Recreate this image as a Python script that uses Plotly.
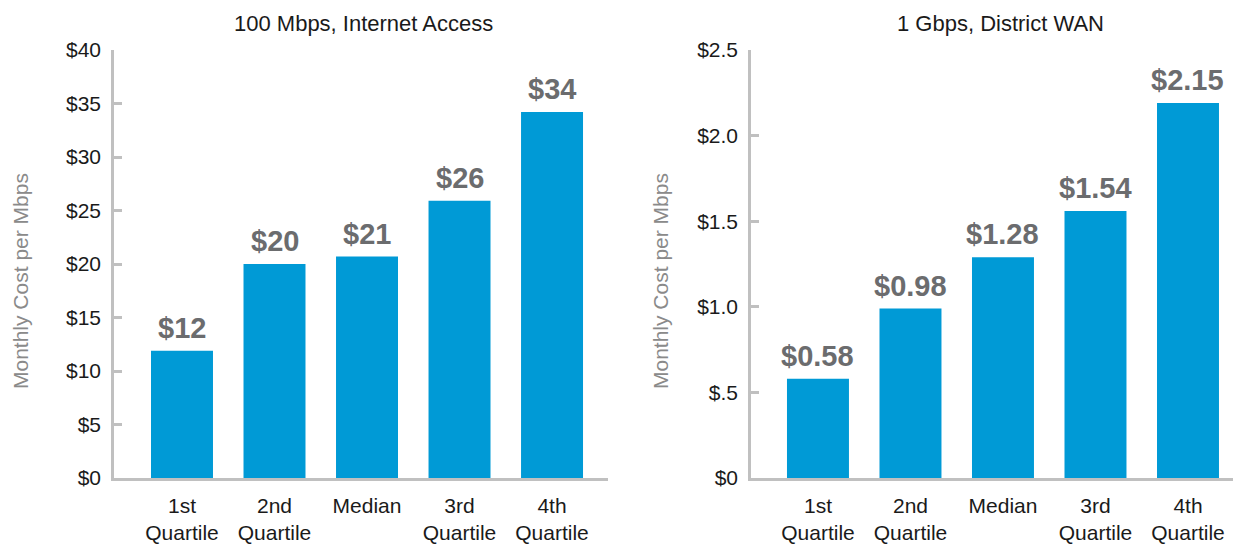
import plotly.graph_objects as go

categories = ["1st<br>Quartile", "2nd<br>Quartile", "Median", "3rd<br>Quartile", "4th<br>Quartile"]

internet_values = [11.9, 20.0, 20.7, 25.9, 34.2]
internet_labels = ["$12", "$20", "$21", "$26", "$34"]
internet_ticks = [0, 5, 10, 15, 20, 25, 30, 35, 40]
internet_ticktext = ["$0", "$5", "$10", "$15", "$20", "$25", "$30", "$35", "$40"]

wan_values = [0.58, 0.99, 1.29, 1.56, 2.19]
wan_labels = ["$0.58", "$0.98", "$1.28", "$1.54", "$2.15"]
wan_ticks = [0, 0.5, 1.0, 1.5, 2.0, 2.5]
wan_ticktext = ["$0", "$.5", "$1.0", "$1.5", "$2.0", "$2.5"]

titles = ["100 Mbps, Internet Access", "1 Gbps, District WAN"]
y_title = "Monthly Cost per Mbps"

BAR = "#009ad6"
LABEL = "#6b6c6e"
AXIS = "#c0c0c0"
FONT = "Liberation Sans, Arial, Helvetica, sans-serif"

# page has an 8px body margin: size the figure to fit and offset positions
OFF = 8
W, H = 1241 - OFF, 545 - OFF
def px_x(p): return (p - OFF) / W
def px_y(p): return 1 - (p - OFF) / H

fig = go.Figure()
fig.add_trace(go.Bar(x=categories, y=internet_values, marker_color=BAR, width=0.67,
                     xaxis="x", yaxis="y", showlegend=False, hoverinfo="skip"))
fig.add_trace(go.Bar(x=categories, y=wan_values, marker_color=BAR, width=0.67,
                     xaxis="x2", yaxis="y2", showlegend=False, hoverinfo="skip"))

common_x = dict(type="category", showgrid=False, showline=True, linecolor=AXIS, linewidth=2.5,
                ticks="", tickfont=dict(family=FONT, size=21, color="#1a1a1a"), zeroline=False,
                automargin=False, ticklabelstandoff=7)
common_y = dict(showgrid=False, showline=True, linecolor=AXIS, linewidth=2.5, ticks="inside",
                ticklen=8, tickwidth=2.5, tickcolor=AXIS, zeroline=False, automargin=False,
                tickfont=dict(family=FONT, size=21, color="#1a1a1a"), ticklabelstandoff=6)

fig.update_layout(
    template="none",
    width=W, height=H, margin=dict(l=0, r=0, t=0, b=0, autoexpand=False),
    plot_bgcolor="white", paper_bgcolor="white", bargap=0.33,
    xaxis=dict(domain=[px_x(114), px_x(608)], range=[-0.735, 4.605], anchor="y", **common_x),
    yaxis=dict(domain=[px_y(478), px_y(50)], range=[0, 40], tickvals=internet_ticks,
               ticktext=internet_ticktext, anchor="x", **common_y),
    xaxis2=dict(domain=[px_x(751), 1.0], range=[-0.724, 4.573], anchor="y2", **common_x),
    yaxis2=dict(domain=[px_y(478), px_y(50)], range=[0, 2.5], tickvals=wan_ticks,
                ticktext=wan_ticktext, anchor="x2", **common_y),
)

annotations = []
for xa, ya, vals, labs in [("x", "y", internet_values, internet_labels),
                           ("x2", "y2", wan_values, wan_labels)]:
    for c, v, t in zip(categories, vals, labs):
        annotations.append(dict(x=c, y=v, xref=xa, yref=ya, text=t, showarrow=False,
                                yanchor="bottom", yshift=5,
                                font=dict(family=FONT, size=29, color=LABEL, weight="bold")))

for t, cx in zip(titles, [363, 1000]):
    annotations.append(dict(x=px_x(cx), y=px_y(23), xref="paper", yref="paper", text=t,
                            showarrow=False, xanchor="center", yanchor="middle",
                            font=dict(family=FONT, size=22, color="#1a1a1a")))
for cx in [20, 660]:
    annotations.append(dict(x=px_x(cx), y=px_y(281), xref="paper", yref="paper", text=y_title,
                            showarrow=False, textangle=-90, xanchor="center", yanchor="middle",
                            font=dict(family=FONT, size=21, color="#8a8a8a")))

fig.update_layout(annotations=annotations)
fig.write_html("out.html")
